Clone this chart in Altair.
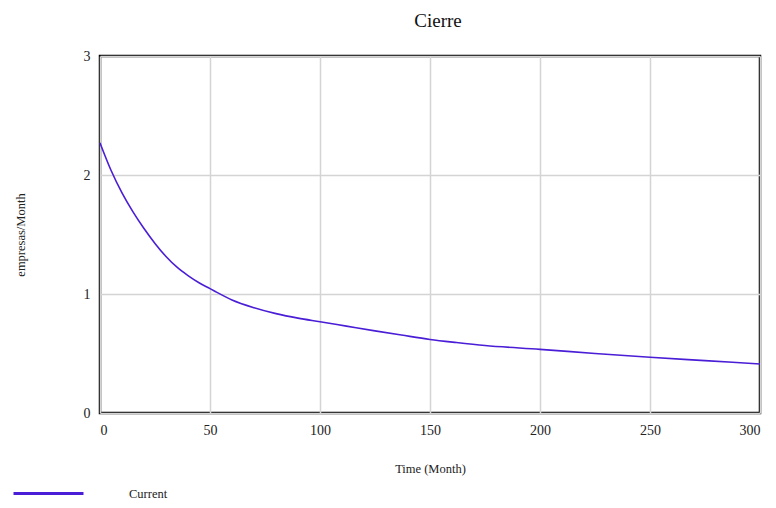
import altair as alt
import pandas as pd

time_months = [0, 5, 10, 15, 20, 25, 30, 35, 40, 45, 50, 52, 60, 70, 80, 90, 100,
               112, 125, 137, 150, 162, 175, 200, 225, 250, 275, 300]
cierre_values = [2.27, 2.04, 1.85, 1.69, 1.55, 1.425, 1.315, 1.225, 1.155, 1.095, 1.045, 1.025,
                 0.95, 0.885, 0.835, 0.797, 0.767, 0.73, 0.69, 0.655, 0.618, 0.592, 0.567,
                 0.535, 0.50, 0.468, 0.44, 0.412]
series_name = "Current"
x_ticks = [0, 50, 100, 150, 200, 250, 300]
y_ticks = [0, 1, 2, 3]

df = pd.DataFrame({"t": time_months, "v": cierre_values, "s": [series_name] * len(time_months)})

font = "Liberation Serif"

chart = alt.Chart(df).mark_line(strokeWidth=1.6, interpolate="monotone").encode(
    x=alt.X("t:Q", scale=alt.Scale(domain=[0, 300], nice=False),
            axis=alt.Axis(values=x_ticks, title="Time (Month)", format="d",
                          labelPadding=10, titlePadding=25, ticks=False, domain=False,
                          gridColor="#d4d4d4", gridWidth=1.5, labelFont=font,
                          titleFont=font, labelFontSize=14, titleFontSize=12.5,
                          titleFontWeight="normal", labelColor="#222", titleColor="#222")),
    y=alt.Y("v:Q", scale=alt.Scale(domain=[0, 3], nice=False),
            axis=alt.Axis(values=y_ticks, title="empresas/Month", format="d",
                          labelPadding=10, titlePadding=56, ticks=False, domain=False,
                          gridColor="#d4d4d4", gridWidth=1.5, labelFont=font,
                          titleFont=font, labelFontSize=14, titleFontSize=12.5,
                          titleFontWeight="normal", labelColor="#222", titleColor="#222")),
    color=alt.Color("s:N", scale=alt.Scale(range=["#4a1ed6"]),
                    legend=alt.Legend(title=None, orient="none", legendX=-88, legendY=401,
                                      symbolType="stroke", symbolSize=4900,
                                      symbolStrokeWidth=3, labelOffset=44,
                                      labelFont=font, labelFontSize=12.5,
                                      labelColor="#222")),
).properties(
    width=660,
    height=357,
    title=alt.TitleParams("Cierre", font=font, fontSize=19, fontWeight="normal",
                          color="#111", offset=18, dx=8),
    autosize=alt.AutoSizeParams(type="none"),
    padding={"left": 92, "top": 48, "right": 6, "bottom": 87},
).configure_view(
    stroke="black", strokeWidth=2.5
)

chart.save("out.html", embed_options={"renderer": "svg", "actions": False})
